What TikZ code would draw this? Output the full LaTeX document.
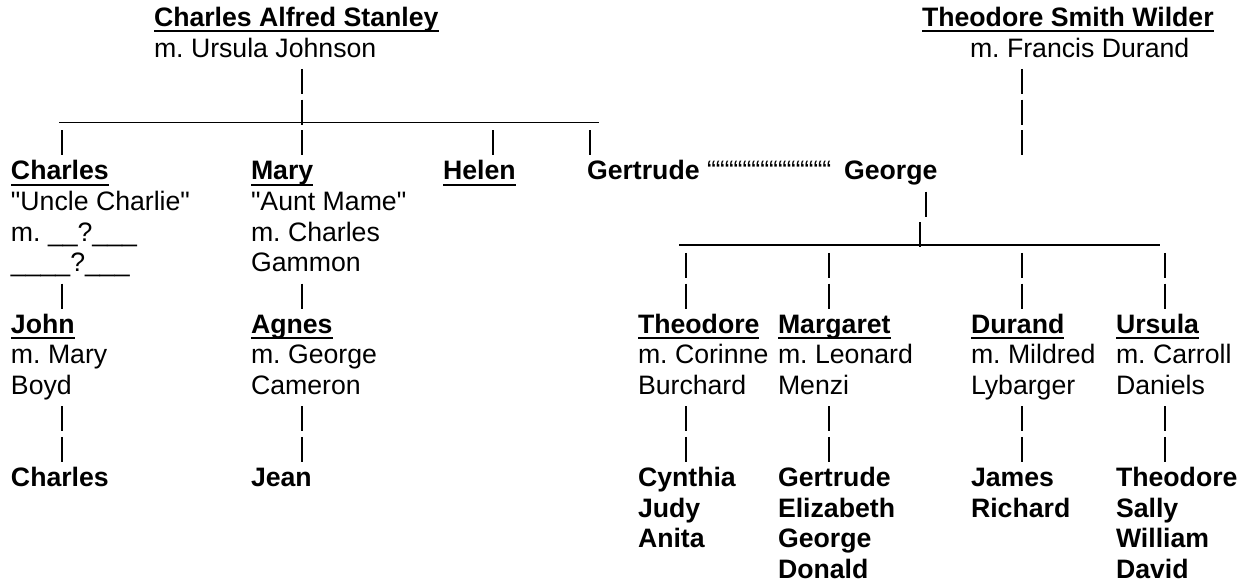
\documentclass[tikz,border=0pt]{standalone}
\usepackage{fontspec}
\setmainfont{Liberation Sans}
\frenchspacing
\newcommand\rb[1]{26.5+(#1-1)*30.667}
\begin{document}
\begin{tikzpicture}[x=0.75pt,y=-0.75pt,
  every node/.style={inner sep=0pt,outer sep=0pt,anchor=base west,font=\fontsize{20pt}{23pt}\selectfont},
  nm/.style={font=\fontsize{20pt}{23pt}\selectfont\bfseries},
  conn/.style={line width=1.3pt},
  usline/.style={line width=1.2pt},
  ulsty/.style={line width=1.5pt}]
\useasboundingbox (0,0) rectangle (1248,586);
\newcommand\uln[1]{\draw[ulsty] ([shift={(0,4.8)}]#1.base west) -- ([shift={(0,4.8)}]#1.base east);}
\newcommand\tbar[2]{\draw[conn] (#1,{\rb{#2}-19}) -- (#1,{\rb{#2}+6});}
% top generation
\node[nm] (cas) at (154,{\rb{1}}) {Charles Alfred Stanley};
\node (casm) at (154,{\rb{2}}) {m. Ursula Johnson};
\node[nm] (tsw) at (922,{\rb{1}}) {Theodore Smith Wilder};
\node (tswm) at (970,{\rb{2}}) {m. Francis Durand};
% column Charles
\node[nm] (charles) at (11,{\rb{6}}) {Charles};
\node (charles1) at (11,{\rb{7}}) {\textquotedbl Uncle Charlie\textquotedbl};
\node (charles2) at (11,{\rb{8}}) {m. \_\_?\_\_\_};
\node (charles3) at (11,{\rb{9}}) {\_\_\_\_?\_\_\_};
\node[nm] (john) at (11,{\rb{11}}) {John};
\node (john1) at (11,{\rb{12}}) {m. Mary};
\node (john2) at (11,{\rb{13}}) {Boyd};
\node[nm] (charlesjr) at (11,{\rb{16}}) {Charles};
% column Mary
\node[nm] (mary) at (251,{\rb{6}}) {Mary};
\node (mary1) at (251,{\rb{7}}) {\textquotedbl Aunt Mame\textquotedbl};
\node (mary2) at (251,{\rb{8}}) {m. Charles};
\node (mary3) at (251,{\rb{9}}) {Gammon};
\node[nm] (agnes) at (251,{\rb{11}}) {Agnes};
\node (agnes1) at (251,{\rb{12}}) {m. George};
\node (agnes2) at (251,{\rb{13}}) {Cameron};
\node[nm] (jean) at (251,{\rb{16}}) {Jean};
% Helen, Gertrude, George
\node[nm] (helen) at (443,{\rb{6}}) {Helen};
\node[nm] (gertrude) at (587,{\rb{6}}) {Gertrude};
\node (marr) at (707,{\rb{6}}) {““““““““““““““};
\node[nm] (george) at (844,{\rb{6}}) {George};
% children of Gertrude and George
\node[nm] (theo) at (638,{\rb{11}}) {Theodore};
\node (theo1) at (638,{\rb{12}}) {m. Corinne};
\node (theo2) at (638,{\rb{13}}) {Burchard};
\node[nm] (theoA) at (638,{\rb{16}}) {Cynthia};
\node[nm] (theoB) at (638,{\rb{17}}) {Judy};
\node[nm] (theoC) at (638,{\rb{18}}) {Anita};
\node[nm] (marg) at (778,{\rb{11}}) {Margaret};
\node (marg1) at (778,{\rb{12}}) {m. Leonard};
\node (marg2) at (778,{\rb{13}}) {Menzi};
\node[nm] (margA) at (778,{\rb{16}}) {Gertrude};
\node[nm] (margB) at (778,{\rb{17}}) {Elizabeth};
\node[nm] (margC) at (778,{\rb{18}}) {George};
\node[nm] (margD) at (778,{\rb{19}}) {Donald};
\node[nm] (dur) at (971,{\rb{11}}) {Durand};
\node (dur1) at (971,{\rb{12}}) {m. Mildred};
\node (dur2) at (971,{\rb{13}}) {Lybarger};
\node[nm] (durA) at (971,{\rb{16}}) {James};
\node[nm] (durB) at (971,{\rb{17}}) {Richard};
\node[nm] (urs) at (1116,{\rb{11}}) {Ursula};
\node (urs1) at (1116,{\rb{12}}) {m. Carroll};
\node (urs2) at (1116,{\rb{13}}) {Daniels};
\node[nm] (ursA) at (1116,{\rb{16}}) {Theodore};
\node[nm] (ursB) at (1116,{\rb{17}}) {Sally};
\node[nm] (ursC) at (1116,{\rb{18}}) {William};
\node[nm] (ursD) at (1116,{\rb{19}}) {David};
% underlines
\uln{cas}\uln{tsw}\uln{charles}\uln{mary}\uln{helen}\uln{john}\uln{agnes}
\uln{theo}\uln{marg}\uln{dur}\uln{urs}
% horizontal sibling lines
\coordinate (l1a) at (59,{\rb{4}+4});
\coordinate (l1b) at (599,{\rb{4}+4});
\draw[usline] (l1a) -- (l1b);
\coordinate (l2a) at (679,{\rb{8}+4});
\coordinate (l2b) at (1160,{\rb{8}+4});
\draw[usline] (l2a) -- (l2b);
% vertical bars
\foreach \r in {3,4,5,10,14,15} {\tbar{302}{\r}}
\foreach \r in {5,10,14,15} {\tbar{62}{\r}}
\tbar{493}{5}
\tbar{590}{5}
\foreach \r in {3,4,5,9,10,14,15} {\tbar{1022}{\r}}
\tbar{926}{7}
\tbar{920}{8}
\foreach \x in {686,829,1165} {\foreach \r in {9,10,14,15} {\tbar{\x}{\r}}}
\end{tikzpicture}
\end{document}
